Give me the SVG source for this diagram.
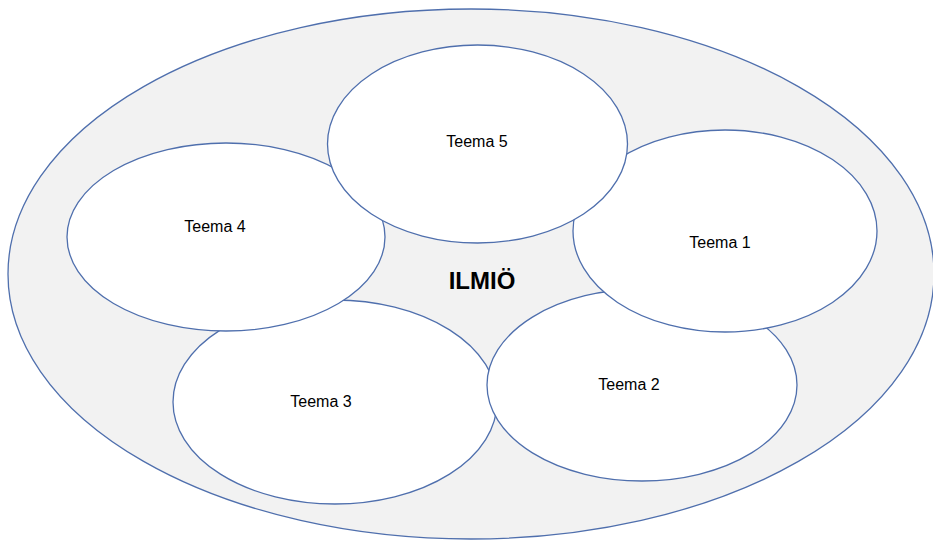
<svg xmlns="http://www.w3.org/2000/svg" width="933" height="542" viewBox="0 0 933 542">
<style>
.e{stroke:#4f6fad;stroke-width:1.3;fill:#fff}
.t{font-family:"Liberation Sans",Arial,sans-serif;font-size:16px;fill:#000;text-anchor:middle}
.b{font-family:"Liberation Sans",Arial,sans-serif;font-size:24px;font-weight:bold;fill:#000;text-anchor:middle}
</style>
<rect width="933" height="542" fill="#fff"/>
<g id="ilmio">
<ellipse cx="471" cy="274" rx="463" ry="265" fill="#f2f2f2" stroke="#4f6fad" stroke-width="1.3"/>
<text class="b" x="482" y="289">ILMIÖ</text>
</g>
<g id="teema3"><ellipse class="e" cx="335" cy="402" rx="162" ry="102"/><text class="t" x="321" y="407">Teema 3</text></g>
<g id="teema2"><ellipse class="e" cx="642" cy="385" rx="155" ry="96"/><text class="t" x="629" y="390">Teema 2</text></g>
<g id="teema4"><ellipse class="e" cx="226" cy="237" rx="159" ry="94"/><text class="t" x="215" y="232">Teema 4</text></g>
<g id="teema1"><ellipse class="e" cx="725" cy="231" rx="152" ry="101"/><text class="t" x="720" y="248">Teema 1</text></g>
<g id="teema5"><ellipse class="e" cx="477.5" cy="144" rx="150" ry="99"/><text class="t" x="477" y="147">Teema 5</text></g>
<g id="connectors"/>
</svg>
